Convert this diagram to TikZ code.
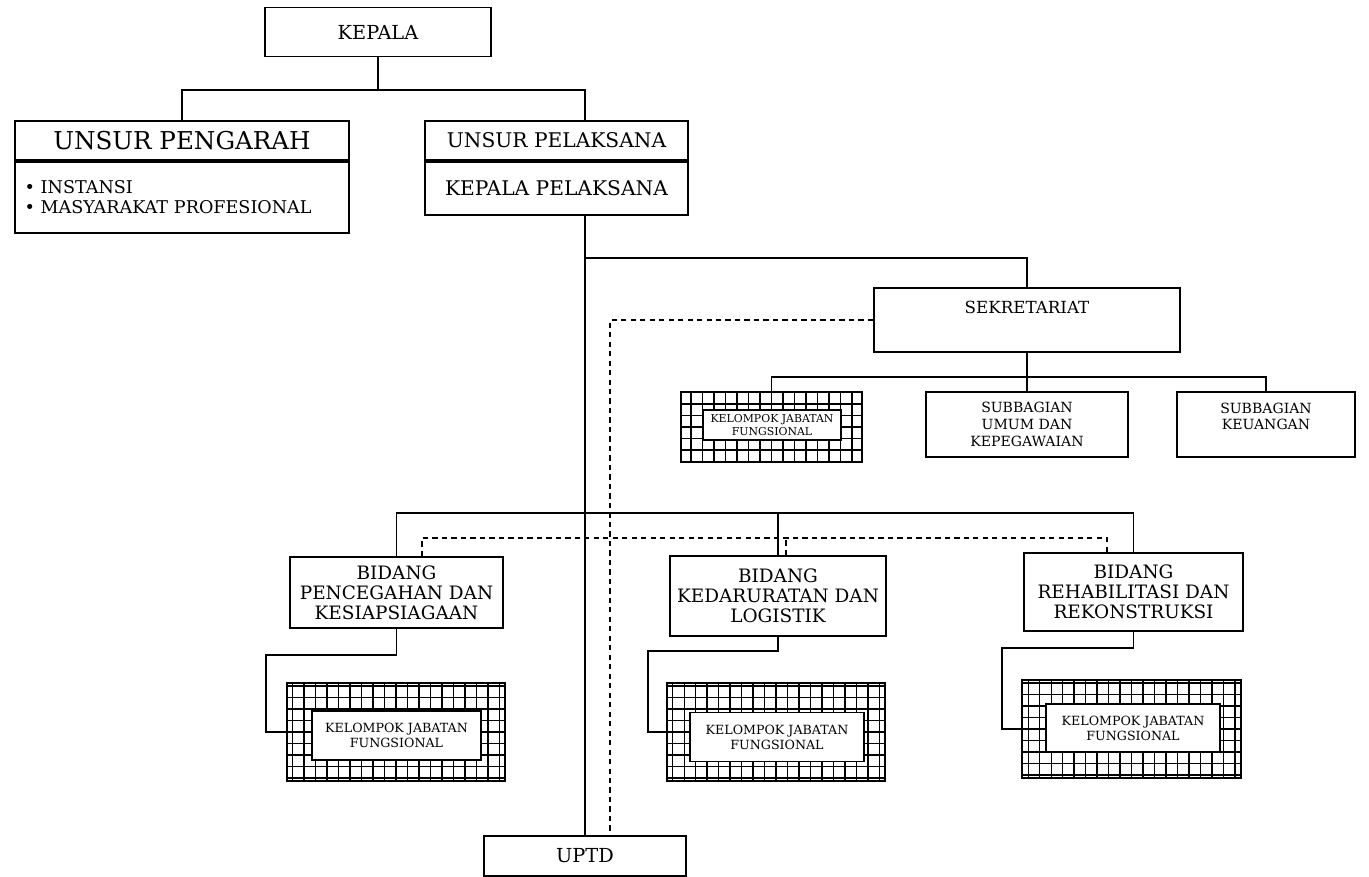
\documentclass[tikz,border=0pt]{standalone}
\usepackage{fontspec}
\setmainfont{DejaVu Serif}
\usetikzlibrary{positioning, calc}

\begin{document}
\begin{tikzpicture}[
        x=0.02cm, y=-0.02cm,
        b/.style={draw, line width=1.1pt, align=center, inner sep=0pt},
        g/.style={draw, line width=1.1pt, inner sep=0pt,
            path picture={\draw[line width=0.6pt, step=0.23cm]
                (path picture bounding box.south west) grid (path picture bounding box.north east);}},
        kjf/.style={draw, line width=1.1pt, fill=white, align=center, inner sep=0pt,
            font=\fontsize{7.2}{8.5}\selectfont},
        ln/.style={line width=0.8pt},
        dl/.style={line width=0.8pt, dash pattern=on 3pt off 2.4pt}
    ]
        \useasboundingbox (0,0) rectangle (1369,876);

        % atas
        \node[b, minimum width=4.52cm, minimum height=0.98cm, font=\fontsize{11}{13}\selectfont] (kepala) at (378,32) {KEPALA};
        \node[b, minimum width=6.68cm, minimum height=0.78cm, font=\fontsize{14}{16}\selectfont] (pengarah) at (182,140.5) {UNSUR PENGARAH};
        \node[b, below=0pt of pengarah, minimum width=6.68cm, minimum height=1.42cm, text width=6.3cm, align=left,
            font=\fontsize{10}{11.5}\selectfont] (anggota) {• INSTANSI\\• MASYARAKAT PROFESIONAL};
        \node[b, minimum width=5.26cm, minimum height=0.78cm, font=\fontsize{11.5}{13}\selectfont] (unsur) at (556.5,140.5) {UNSUR PELAKSANA};
        \node[b, below=0pt of unsur, minimum width=5.26cm, minimum height=1.06cm, font=\fontsize{11.5}{13}\selectfont] (kalak) {KEPALA PELAKSANA};

        % sekretariat
        \node[b, minimum width=6.12cm, minimum height=1.28cm, font=\fontsize{9.5}{14}\selectfont] (sek) at (1027,320) {SEKRETARIAT\\\mbox{}};
        \node[g, minimum width=3.62cm, minimum height=1.4cm] (kjfs) at (771.5,427) {};
        \node[kjf, minimum width=2.76cm, minimum height=0.6cm, font=\fontsize{6.2}{7.2}\selectfont] (kjfs in) at (772,425) {KELOMPOK JABATAN\\FUNGSIONAL};
        \node[b, minimum width=4.04cm, minimum height=1.3cm, font=\fontsize{8}{9.5}\selectfont] (umum) at (1027,424.5) {SUBBAGIAN\\UMUM DAN\\KEPEGAWAIAN};
        \node[b, minimum width=3.56cm, minimum height=1.3cm, font=\fontsize{8}{9.5}\selectfont] (keu) at (1266,424.5) {SUBBAGIAN\\KEUANGAN\\\mbox{}};

        % bidang
        \node[b, minimum width=4.26cm, minimum height=1.42cm, font=\fontsize{10.5}{11.5}\selectfont] (bid1) at (396.5,592.5) {BIDANG\\PENCEGAHAN DAN\\KESIAPSIAGAAN};
        \node[b, minimum width=4.32cm, minimum height=1.6cm, font=\fontsize{10.5}{11.5}\selectfont] (bid2) at (778,596) {BIDANG\\KEDARURATAN DAN\\LOGISTIK};
        \node[b, minimum width=4.38cm, minimum height=1.56cm, font=\fontsize{10.5}{11.5}\selectfont] (bid3) at (1133.5,592) {BIDANG\\REHABILITASI DAN\\REKONSTRUKSI};

        \node[g, minimum width=4.36cm, minimum height=1.96cm] (kjf1) at (396,732) {};
        \node[kjf, minimum width=3.38cm, minimum height=0.98cm] (kjf1 in) at (396.5,735.5) {KELOMPOK JABATAN\\FUNGSIONAL};
        \node[g, minimum width=4.36cm, minimum height=1.96cm] (kjf2) at (776,732) {};
        \node[kjf, minimum width=3.48cm, minimum height=0.98cm] (kjf2 in) at (777,737) {KELOMPOK JABATAN\\FUNGSIONAL};
        \node[g, minimum width=4.38cm, minimum height=1.96cm] (kjf3) at (1131.5,729) {};
        \node[kjf, minimum width=3.48cm, minimum height=0.96cm] (kjf3 in) at (1133,728) {KELOMPOK JABATAN\\FUNGSIONAL};

        \node[b, minimum width=4.04cm, minimum height=0.8cm, font=\fontsize{11}{13}\selectfont] (uptd) at (585,856) {UPTD};

        % garis
        \coordinate (kb) at (378,90);
        \coordinate (sb) at (585,258);
        \coordinate (ub) at (1027,377);
        \coordinate (bb) at (585,513);
        \coordinate (db) at (610,538);
        \coordinate (c1) at (266,655);
        \coordinate (c2) at (648,651);
        \coordinate (c3) at (1002,648);
        \coordinate (d1) at ([xshift=0.51cm]bid1.north);
        \coordinate (d2) at ([xshift=0.16cm]bid2.north);
        \coordinate (d3) at ([xshift=-0.53cm]bid3.north);

        \draw[ln] (kepala) -- (kb);
        \draw[ln] (pengarah.north) |- (kb) -| (unsur.north -| uptd.north);
        \draw[ln] (kalak.south -| uptd.north) -- (uptd.north);
        \draw[ln] (sb) -| (sek.north);
        \draw[ln] (sek) -- (umum);
        \draw[ln] (kjfs.north) |- (ub) -| (keu.north);
        \draw[ln] (bid1.north) |- (bb) -| (bid3.north);
        \draw[ln] (bid2.north) -- (bid2.north |- bb);
        \draw[ln] (bid1.south) |- (c1) |- (kjf1.west);
        \draw[ln] (bid2.south) |- (c2) |- (kjf2.west);
        \draw[ln] (bid3.south) |- (c3) |- (kjf3.west);
        \draw[dl] (sek.west) -| (uptd.north -| db);
        \draw[dl] (d1) |- (db) -| (d3);
        \draw[dl] (d2) -- (d2 |- db);
    \end{tikzpicture}
\end{document}
